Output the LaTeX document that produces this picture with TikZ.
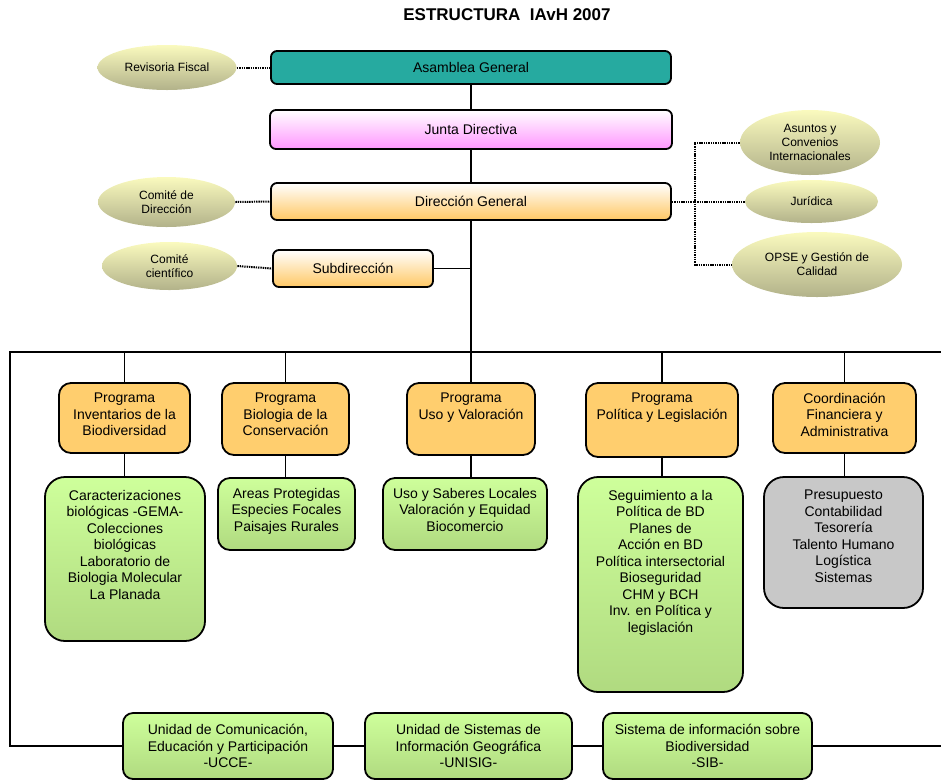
\documentclass[tikz,border=0pt]{standalone}
\usepackage{fontspec}
\setmainfont{Liberation Sans}
\usetikzlibrary{shapes.geometric}

\definecolor{asambleafill}{RGB}{38,170,160}
\definecolor{juntafill}{RGB}{255,150,255}
\definecolor{dirfill}{RGB}{255,200,100}
\definecolor{progfill}{RGB}{255,206,110}
\definecolor{ovaltop}{RGB}{250,250,190}
\definecolor{ovalbottom}{RGB}{178,178,138}
\definecolor{greentop}{RGB}{206,255,155}
\definecolor{greenbottom}{RGB}{176,218,128}
\definecolor{grayfill}{RGB}{200,200,200}

% text held at the top of a box: [pad]{width}{height}{lines}
\newcommand{\toptext}[4][12pt]{\parbox[c][#3][t]{#2}{\centering\vspace*{#1}#4}}

\begin{document}
\begin{tikzpicture}[x=1pt,y=-1pt,thick,
    head node/.style={draw,rounded corners=6pt,line width=1.8pt,inner sep=2pt,
                      font=\fontsize{14}{16.5}\selectfont},
    side node/.style={ellipse,inner sep=0pt,top color=ovaltop,bottom color=ovalbottom,
                      align=center,font=\fontsize{12}{14}\selectfont},
    prog node/.style={draw,rounded corners=12pt,line width=1.8pt,fill=progfill,inner sep=0pt,
                      font=\fontsize{14}{16.5}\selectfont},
    list node/.style={draw,rounded corners=20pt,line width=1.8pt,top color=greentop,
                      bottom color=greenbottom,inner sep=0pt,font=\fontsize{14}{16.5}\selectfont},
    unit node/.style={draw,rounded corners=10pt,line width=1.8pt,top color=greentop,
                      bottom color=greenbottom,inner sep=2pt,align=center,
                      font=\fontsize{14}{16.5}\selectfont},
    link/.style={line width=1.8pt},
    dots/.style={dash pattern=on 1.4pt off 0.9pt,line width=2pt}]
\useasboundingbox (0,0) rectangle (941,780);

\node[font=\bfseries\fontsize{17}{20}\selectfont] (title) at (507,15) {ESTRUCTURA\ \ IAvH 2007};

% top of the structure
\node[head node,fill=asambleafill,minimum width=400pt,minimum height=33pt] (asamblea) at (471,67.5) {Asamblea General};
\node[head node,top color=white,bottom color=juntafill,minimum width=402pt,minimum height=39pt] (junta) at (471,129.5) {Junta Directiva};
\node[head node,top color=white,bottom color=dirfill,minimum width=400pt,minimum height=37pt] (direccion) at (471,201.5) {Dirección General};
\node[head node,top color=white,bottom color=dirfill,minimum width=160pt,minimum height=37pt] (subdir) at (353,268.5) {Subdirección};

% advisory ovals
\node[side node,minimum width=139pt,minimum height=45pt] (revisoria) at (167,67.5) {Revisoria Fiscal};
\node[side node,minimum width=137pt,minimum height=50pt] (comdir) at (166.5,202) {Comité de\\Dirección};
\node[side node,minimum width=135pt,minimum height=48pt] (comcien) at (169.5,266) {Comité\\científico};
\node[side node,minimum width=140pt,minimum height=65pt] (asuntos) at (810,142.5) {Asuntos y\\Convenios\\Internacionales};
\node[side node,minimum width=133pt,minimum height=43pt] (juridica) at (811.5,201.5) {Jurídica};
\node[side node,minimum width=170pt,minimum height=65pt] (opse) at (817,264.5) {OPSE y Gestión de\\Calidad};

% programs
\node[prog node,minimum width=131pt,minimum height=70pt] (prog1) at (124.5,418) {\toptext[10pt]{131pt}{70pt}{Programa\\Inventarios de la\\Biodiversidad}};
\node[prog node,minimum width=127pt,minimum height=72pt] (prog2) at (285.5,419) {\toptext[10pt]{127pt}{72pt}{Programa\\Biologia de la\\Conservación}};
\node[prog node,minimum width=128pt,minimum height=72pt] (prog3) at (471,419) {\toptext[10pt]{128pt}{72pt}{Programa\\Uso y Valoración}};
\node[prog node,minimum width=152pt,minimum height=74pt] (prog4) at (662,420) {\toptext[10pt]{152pt}{74pt}{Programa\\Política y Legislación}};
\node[prog node,minimum width=143pt,minimum height=70pt] (prog5) at (844.5,418) {\toptext[10pt]{143pt}{70pt}{Coordinación\\Financiera y\\Administrativa}};

% lines of work
\node[list node,minimum width=160pt,minimum height=164pt] (green1) at (125,559) {\toptext[13pt]{160pt}{164pt}{Caracterizaciones\\biológicas -GEMA-\\Colecciones\\biológicas\\Laboratorio de\\Biologia Molecular\\La Planada}};
\node[list node,rounded corners=12pt,minimum width=137pt,minimum height=72pt] (green2) at (286.5,514) {\toptext[10pt]{137pt}{72pt}{Areas Protegidas\\Especies Focales\\Paisajes Rurales}};
\node[list node,rounded corners=12pt,minimum width=164pt,minimum height=72pt] (green3) at (465,514) {\toptext[10pt]{164pt}{72pt}{Uso y Saberes Locales\\Valoración y Equidad\\Biocomercio}};
\node[list node,minimum width=165pt,minimum height=215pt] (green4) at (660.5,584.5) {\toptext[13pt]{165pt}{215pt}{Seguimiento a la\\Política de BD\\Planes de\\Acción en BD\\Política intersectorial\\Bioseguridad\\CHM y BCH\\Inv. en Política y\\legislación}};
\node[list node,fill=grayfill,top color=grayfill,bottom color=grayfill,minimum width=159pt,minimum height=131pt] (gray) at (843.5,542.5) {\toptext[13pt]{159pt}{131pt}{Presupuesto\\Contabilidad\\Tesorería\\Talento Humano\\Logística\\Sistemas}};

% units at the bottom
\node[unit node,minimum width=210pt,minimum height=66pt] (ucce) at (228,746) {Unidad de Comunicación,\\Educación y Participación\\-UCCE-};
\node[unit node,minimum width=207pt,minimum height=66pt] (unisig) at (468.5,746) {Unidad de Sistemas de\\Información Geográfica\\-UNISIG-};
\node[unit node,minimum width=209pt,minimum height=66pt] (sib) at (707.5,746) {Sistema de información sobre\\Biodiversidad\\-SIB-};

\coordinate (barL) at (10,352);
\coordinate (barR) at (941,352);
\coordinate (rightjoin) at (695,202);

\draw[link] (asamblea.south) -- (junta.north);
\draw[link] (junta.south) -- (direccion.north);
\draw[link] (direccion.south) -- (direccion.south |- barL);
\draw[link] (subdir.east) -- (subdir.east -| direccion.south);
\draw[link] (barR) -- (barL) |- (ucce.west);
\foreach \p/\g in {prog1/green1,prog2/green2,prog3/green3,prog4/green4,prog5/gray}{
  \draw[link] (\p.north) -- (\p.north |- barL);
  \draw[link] (\p.south) -- (\p.south |- \g.north);
}
\draw[link] (ucce.east) -- (unisig.west);
\draw[link] (unisig.east) -- (sib.west);
\draw[link] (sib.east) -- (sib.east -| barR);

\draw[dots] (revisoria.east) -- (asamblea.west);
\draw[dots] (comdir.east) -- (direccion.west);
\draw[dots] (comcien.east) -- (subdir.west);
\draw[dots] (direccion.east) -- (juridica.west);
\draw[dots] (asuntos.west) -| (rightjoin) |- (opse.west);
\end{tikzpicture}
\end{document}
